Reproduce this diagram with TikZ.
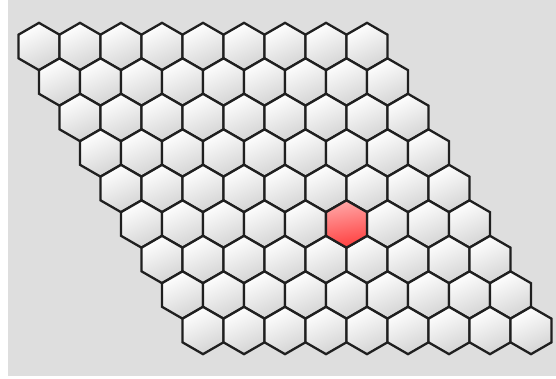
\documentclass[tikz,border=0pt]{standalone}
\usetikzlibrary{shapes.geometric}
\begin{document}
\begin{tikzpicture}[x=1pt, y=-1pt,
    hexa/.style={regular polygon, regular polygon sides=6, shape border rotate=30,
        minimum size=47.3pt, inner sep=0pt, draw=black!88, line width=2.3pt,
        top color=white, bottom color=black!17, shading angle=25},
    hot/.style={top color=red!35!white, bottom color=red!75!white, shading angle=10}]
    \useasboundingbox (0,0) rectangle (556,379);
    \fill[white] (0,0) rectangle (556,379);
    \fill[black!13] (8,0) rectangle (556,376);
    \foreach \r in {0,...,8} {
        \foreach \c in {0,...,8} {
            \node[hexa] (h-\r-\c) at ({39+20.5*\r+41*\c}, {46.5+35.5*\r}) {};
        }
    }
    \node[hexa, hot] (mark) at ({39+20.5*5+41*5}, {46.5+35.5*5}) {};
\end{tikzpicture}
\end{document}
